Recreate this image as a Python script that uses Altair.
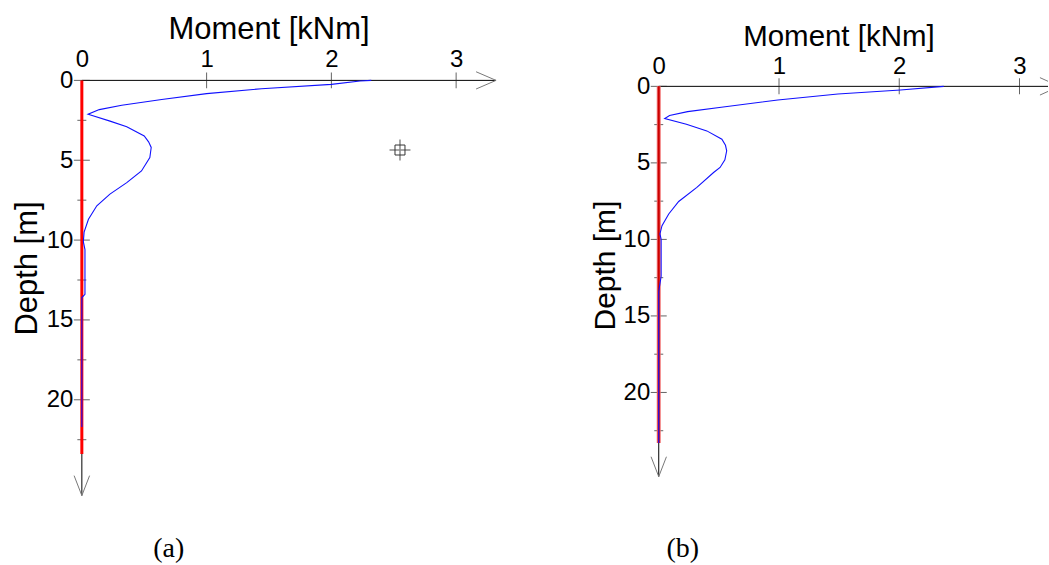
import altair as alt
import pandas as pd

# Bending moment along the pile, case (a)
a_depth = [0.0, 0.04, 0.25, 0.52, 0.83, 1.2, 1.56, 1.83, 2.12, 2.55, 2.9, 3.48, 3.85,
           4.2, 4.83, 5.67, 6.4, 7.12, 7.85, 8.7, 9.5, 10.1, 10.6, 13.4, 13.6, 21.7]
a_moment = [2.32, 2.23, 2.0, 1.44, 1.0, 0.64, 0.32, 0.14, 0.05, 0.226, 0.36, 0.5, 0.535,
            0.556, 0.545, 0.478, 0.36, 0.225, 0.12, 0.053, 0.018, 0.012, 0.025, 0.025, 0.0, 0.0]

# Bending moment along the pile, case (b)
b_depth = [0.0, 0.24, 0.5, 0.89, 1.37, 1.65, 1.91, 2.1, 2.48, 2.91, 3.45, 3.85, 4.21,
           4.8, 5.3, 5.63, 6.6, 7.52, 8.34, 9.1, 9.64, 10.0, 12.4, 13.4, 23.3]
b_moment = [2.37, 2.01, 1.49, 0.99, 0.52, 0.24, 0.09, 0.05, 0.23, 0.4, 0.525, 0.555, 0.565,
            0.55, 0.51, 0.456, 0.317, 0.166, 0.083, 0.027, 0.01, 0.02, 0.02, 0.0, 0.0]

# Pile length (red line) for each case
pile_length_a = 23.4
pile_length_b = 23.3

# Cursor marker left on panel (a)
marker_a = {"m": 2.55, "d": 4.36}

x_ticks = [0, 1, 2, 3]
depth_major = [0, 5, 10, 15, 20]
depth_minor = [2.5, 7.5, 12.5, 17.5, 22.5]

FONT = "Liberation Sans"
SERIF = "Liberation Serif"


def arrow_segments(sty):
    """Open arrowheads at the ends of both axes, cut at the right edge of the plot."""
    x_tip, y_tip, x_max = sty["x_tip"], sty["y_tip"], sty["x_max"]
    hx, hy = sty["head_dx"], sty["head_dy"]
    segs = []
    for sgn in (-1, 1):
        tail_x, tail_y = x_tip - hx[0], sgn * hy[0]
        if x_tip <= x_max:
            end_x, end_y = x_tip, 0.0
        else:
            frac = (x_max - tail_x) / hx[0]
            end_x, end_y = x_max, tail_y * (1 - frac)
        segs.append((tail_x, tail_y, end_x, end_y))
        segs.append((sgn * hx[1], y_tip - hy[1], 0.0, y_tip))
    return pd.DataFrame(segs, columns=["x", "y", "x2", "y2"])


def panel(depth, moment, pile_len, caption, sty, marker=None):
    xs = alt.Scale(domain=[0, sty["x_max"]], nice=False, zero=False)
    ys = alt.Scale(domain=[sty["y_min"], sty["y_max"]], reverse=True, nice=False, zero=False)
    xaxis = alt.Axis(
        orient="top", values=x_ticks, domain=False, ticks=False, grid=False,
        labelFont=FONT, labelFontSize=sty["lfs"], labelColor="black",
        labelBaseline="alphabetic", labelPadding=sty["xlp"], labelFlush=False,
        labelOverlap=False, title="Moment [kNm]", titleFont=FONT,
        titleFontSize=sty["tfs"], titleFontWeight="normal", titleColor="black",
        titleX=sty["tx"], titleY=sty["ty"], titleAlign="center",
        titleBaseline="alphabetic",
    )
    yaxis = alt.Axis(
        orient="left", values=depth_major, domain=False, ticks=False, grid=False,
        labelFont=FONT, labelFontSize=sty["lfs"], labelColor="black",
        labelAlign="right", labelBaseline="middle", labelPadding=9,
        labelFlush=False, labelOverlap=False, title="Depth [m]", titleFont=FONT,
        titleFontSize=sty["yfs"], titleFontWeight="normal", titleColor="black",
        titleAngle=270, titleX=sty["yx"], titleY=sty["yy"], titleAlign="center",
        titleBaseline="alphabetic",
    )

    def X(f):
        return alt.X(f, type="quantitative", scale=xs, axis=xaxis)

    def Y(f):
        return alt.Y(f, type="quantitative", scale=ys, axis=yaxis)

    x_end = min(sty["x_tip"], sty["x_max"])
    ax_df = pd.DataFrame({"x": [0, 0], "x2": [x_end, 0], "y": [0, 0], "y2": [0, sty["y_tip"]]})
    axes = alt.Chart(ax_df).mark_rule(color="black", strokeWidth=1).encode(
        x=X("x"), x2="x2", y=Y("y"), y2="y2")

    heads = alt.Chart(arrow_segments(sty)).mark_rule(color="#777777", strokeWidth=1).encode(
        x=X("x"), x2="x2", y=Y("y"), y2="y2")

    ymaj = alt.Chart(pd.DataFrame({"d": depth_major, "m": 0})).mark_tick(
        orient="horizontal", size=16, thickness=1, color="#222222").encode(x=X("m"), y=Y("d"))
    ymin = alt.Chart(pd.DataFrame({"d": depth_minor, "m": 0})).mark_tick(
        orient="horizontal", size=9, thickness=1, color="#222222").encode(x=X("m"), y=Y("d"))
    xmaj = alt.Chart(pd.DataFrame({"m": x_ticks[1:], "d": 0})).mark_tick(
        orient="vertical", size=16, thickness=1, color="#222222").encode(x=X("m"), y=Y("d"))

    pile_df = pd.DataFrame({"m": [0], "top": [0], "bottom": [pile_len]})
    pile_layers = []
    for color, w in sty["pile"]:
        pile_layers.append(alt.Chart(pile_df).mark_rule(color=color, strokeWidth=w).encode(
            x=X("m"), y=Y("top"), y2="bottom"))

    curve_df = pd.DataFrame({"d": depth, "m": moment, "i": range(len(depth))})
    curve = alt.Chart(curve_df).mark_line(color="#1010ff", strokeWidth=1.1).encode(
        x=X("m"), y=Y("d"), order="i:Q")

    cap_df = pd.DataFrame({"label": [caption]})
    cap = alt.Chart(cap_df).mark_text(
        font=SERIF, fontSize=28, color="black", align="center", baseline="alphabetic"
    ).encode(x=alt.value(sty["cap_x"]), y=alt.value(sty["cap_y"]), text="label:N")

    layers = [axes, heads, ymaj, ymin, xmaj] + pile_layers + [curve, cap]

    if marker is not None:
        mk_df = pd.DataFrame([marker])
        cross = alt.Chart(mk_df).mark_point(
            shape="M-1,0L1,0M0,-1L0,1", size=441, filled=False, color="#8a8a8a",
            strokeWidth=1.5, opacity=1).encode(x=X("m"), y=Y("d"))
        box = alt.Chart(mk_df).mark_point(
            shape="square", size=100, filled=False, color="#333333",
            strokeWidth=1, opacity=1).encode(x=X("m"), y=Y("d"))
        layers += [cross, box]

    return alt.layer(*layers).properties(width=sty["w"], height=sty["h"])


style_a = dict(
    x_max=3.32, y_min=0, y_max=26, w=415, h=416, x_tip=3.32, y_tip=26,
    head_dx=(0.16, 0.062), head_dy=(0.54, 1.25),
    lfs=24, xlp=14, tfs=31, tx=187, ty=-42, yfs=31, yx=-45, yy=188,
    pile=[("#ff0000", 3)], cap_x=87, cap_y=478,
)
style_b = dict(
    x_max=3.237, y_min=-0.39, y_max=25.5, w=390, h=397, x_tip=3.33, y_tip=25.5,
    head_dx=(0.16, 0.064), head_dy=(0.57, 1.3),
    lfs=24, xlp=7, tfs=29.5, tx=180, ty=-35, yfs=30, yx=-44, yy=185,
    pile=[("#f07070", 4), ("#cc0000", 2)], cap_x=24, cap_y=478,
)

left = panel(a_depth, a_moment, pile_length_a, "(a)", style_a, marker=marker_a)
right = panel(b_depth, b_moment, pile_length_b, "(b)", style_b)

chart = alt.hconcat(left, right, spacing=163, bounds="flush").properties(
    padding={"left": 12, "top": 13, "right": 0, "bottom": 0},
    background="white",
).configure_view(stroke=None)

chart.save("out.html", embed_options={"renderer": "svg", "actions": False})
